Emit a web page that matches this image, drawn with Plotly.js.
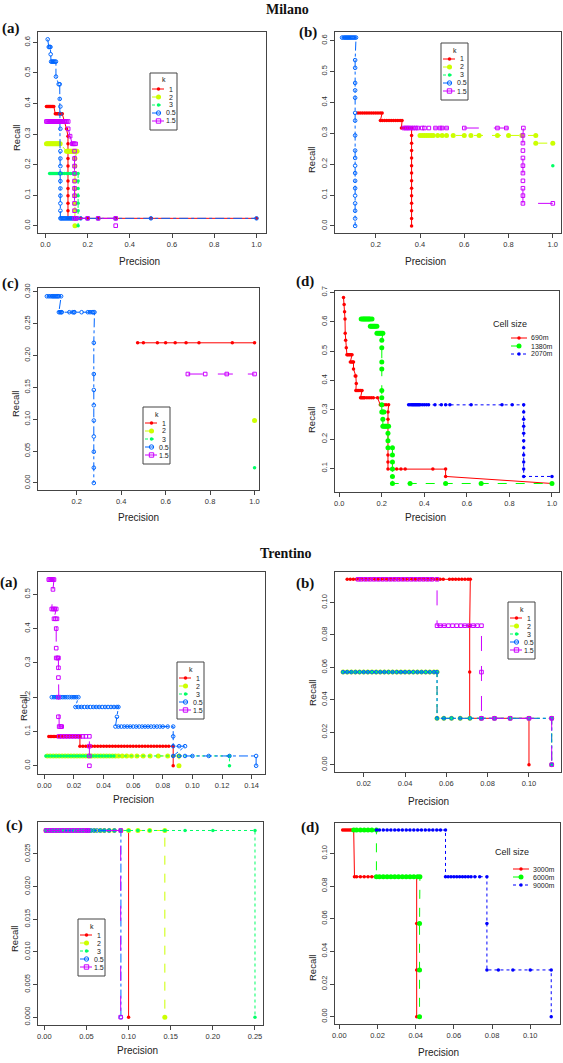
<!DOCTYPE html>
<html><head><meta charset="utf-8">
<script src="https://cdn.plot.ly/plotly-3.0.1.min.js"></script>
<style>html,body{margin:0;padding:0;background:#fff}</style>
</head><body><div id="chart" style="width:563px;height:1063px"></div>
<script>
// ================= DATA =================
const kLabels = ['1','2','3','0.5','1.5'];
const cellLabelsMilano = ['690m','1380m','2070m'];
const cellLabelsTrentino = ['3000m','6000m','9000m'];
const panelLetters = ['(a)','(b)','(c)','(d)','(a)','(b)','(c)','(d)'];
const regionTitles = ['Milano','Trentino'];

// ---- Milano (a) ----
const milA_k1_recall = [0.390,0.366,0.317,0.293,0.268,0.244,0.220,0.195,0.171,0.146,0.122,0.098,0.073,0.049,0.024];
const milA_k1_prec = [[0.005,0.009,0.013,0.017,0.021,0.025,0.030,0.034,0.040],[0.047,0.052,0.057,0.062,0.067,0.072,0.077,0.080],[0.100],[0.107],[0.107],[0.107],[0.107],[0.107],[0.107],[0.107],[0.107],[0.107],[0.107],[0.107],[0.107,0.120,0.140,0.167,0.200,0.250,0.333,0.500,1.000]];
const milA_k2_recall = [0.268,0.244,0.220,0.195,0.171,0.146,0.122,0.098,0.073,0.049,0.024,0.000];
const milA_k2_prec = [[0.005,0.010,0.015,0.020,0.025,0.030,0.035,0.040,0.045,0.050,0.055,0.060,0.065,0.070],[0.100,0.105,0.110,0.115,0.120,0.125,0.130,0.135,0.140,0.145,0.150],[0.140],[0.140],[0.140],[0.140],[0.140],[0.140],[0.140],[0.140],[0.140],[0.140]];
const milA_k3_recall = [0.171,0.146,0.122,0.098,0.073,0.049,0.024,0.000];
const milA_k3_prec = [[0.020,0.025,0.030,0.035,0.040,0.045,0.050,0.055,0.060,0.065,0.070,0.080,0.090,0.100,0.110,0.120,0.130,0.140,0.155],[0.155],[0.155],[0.155],[0.155],[0.155],[0.155],[0.155]];
const milA_k05_recall = [0.610,0.585,0.561,0.537,0.488,0.463,0.415,0.390,0.366,0.341,0.317,0.244,0.220,0.195,0.171,0.146,0.122,0.098,0.073,0.049,0.024];
const milA_k05_prec = [[0.011],[0.016,0.020,0.024],[0.025],[0.027,0.032,0.036,0.040,0.045,0.050],[0.050],[0.063,0.068],[0.068],[0.071],[0.071],[0.071],[0.071],[0.071],[0.071],[0.071],[0.071],[0.071],[0.071],[0.071],[0.071],[0.071],[0.071,0.075,0.080,0.085,0.090,0.095,0.100,0.105,0.110,0.115,0.120,0.125,0.130,0.140,0.150,0.167,0.200,0.250,0.333,0.500,1.000]];
const milA_k15_recall = [0.341,0.317,0.293,0.268,0.244,0.220,0.195,0.171,0.146,0.122,0.098,0.073,0.049,0.024,0.000];
const milA_k15_prec = [[0.005,0.010,0.015,0.020,0.025,0.030,0.035,0.040,0.045,0.050,0.055,0.060,0.065,0.070,0.075,0.080,0.085,0.090,0.095,0.100,0.108],[0.108],[0.117],[0.127,0.132,0.137,0.143],[0.138],[0.138],[0.138],[0.138],[0.138],[0.138],[0.138],[0.138],[0.138],[0.138,0.147,0.200,0.250,0.333],[0.333]];

// ---- Milano (b) ----
const milB_k1_recall = [0.366,0.341,0.317,0.293,0.268,0.244,0.220,0.195,0.171,0.146,0.122,0.098,0.073,0.049,0.024,0.000];
const milB_k1_prec = [[0.120,0.130,0.140,0.150,0.160,0.170,0.180,0.190,0.200,0.210,0.220,0.229],[0.221,0.230,0.240,0.250,0.260,0.270,0.280,0.290,0.300,0.310,0.319],[0.316,0.330,0.340,0.350,0.362],[0.362],[0.362],[0.362],[0.362],[0.362],[0.362],[0.362],[0.362],[0.362],[0.362],[0.362],[0.362],[0.362]];
const milB_k2_recall = [0.293,0.268];
const milB_k2_prec = [[0.400,0.410,0.420,0.430,0.440,0.450,0.460,0.480,0.500,0.520,0.550,0.600,0.630,0.667,0.750,0.800,0.860,0.923],[0.923,1.000]];
const milB_k3_recall = [0.195];
const milB_k3_prec = [[1.000]];
const milB_k05_recall = [0.610,0.537,0.512,0.463,0.439,0.415,0.366,0.341,0.293,0.244,0.220,0.195,0.171,0.146,0.122,0.098,0.073,0.049,0.024,0.000];
const milB_k05_prec = [[0.048,0.055,0.060,0.065,0.070,0.075,0.080,0.085,0.090,0.095,0.100,0.105,0.111],[0.107],[0.107],[0.107],[0.107],[0.107],[0.107],[0.107],[0.107],[0.107],[0.107],[0.107],[0.107],[0.107],[0.107],[0.107],[0.107],[0.107],[0.107],[0.107]];
const milB_k15_recall = [0.317,0.293,0.268,0.244,0.220,0.195,0.171,0.146,0.122,0.098,0.073];
const milB_k15_prec = [[0.327,0.335,0.343,0.350,0.360,0.370,0.380,0.390,0.410,0.420,0.440,0.470,0.490,0.500,0.520,0.600,0.750,0.790,0.867],[0.865],[0.865],[0.865],[0.865],[0.865],[0.865],[0.865],[0.865],[0.865],[0.865,1.000]];

// ---- Milano (c) ----
const milC_k1_recall = [0.220];
const milC_k1_prec = [[0.474,0.500,0.563,0.600,0.643,0.692,0.750,0.900,1.000]];
const milC_k2_recall = [0.098];
const milC_k2_prec = [[1.000]];
const milC_k3_recall = [0.024];
const milC_k3_prec = [[1.000]];
const milC_k05_recall = [0.293,0.268,0.220,0.171,0.146,0.122,0.098,0.073,0.049,0.024,0.000];
const milC_k05_prec = [[0.066,0.075,0.083,0.090,0.095,0.100,0.105,0.110,0.115,0.120,0.130],[0.120,0.125,0.130,0.133,0.167,0.182,0.188,0.190,0.222,0.250,0.260,0.270,0.275,0.280],[0.277],[0.277],[0.277],[0.277],[0.277],[0.277],[0.277],[0.277],[0.277]];
const milC_k15_recall = [0.171];
const milC_k15_prec = [[0.700,0.778,0.875,1.000]];

// ---- Milano (d) : cell size ----
const milD_c690_recall = [0.683,0.659,0.634,0.610,0.561,0.537,0.512,0.488,0.463,0.439,0.415,0.390,0.366,0.341,0.317,0.293,0.268,0.244,0.220,0.195,0.171,0.146,0.122,0.098,0.073,0.049];
const milD_c690_prec = [[0.020],[0.023],[0.025],[0.027],[0.028],[0.030],[0.033],[0.036,0.040,0.045,0.050,0.055,0.060],[0.052,0.058,0.063,0.067],[0.067],[0.075,0.078],[0.080],[0.078,0.083,0.088,0.093,0.100,0.107],[0.100,0.105,0.110,0.115,0.120,0.130,0.140,0.150,0.160,0.180],[0.193,0.200,0.210,0.220,0.232],[0.229],[0.229],[0.229],[0.229],[0.229],[0.229],[0.229],[0.229],[0.229,0.250,0.270,0.290,0.310,0.440,0.500],[0.500],[1.000]];
const milD_c1380_recall = [0.610,0.585,0.561,0.537,0.512,0.463,0.439,0.366,0.341,0.317,0.293,0.268,0.244,0.220,0.195,0.171,0.146,0.122,0.098,0.073,0.049];
const milD_c1380_prec = [[0.103,0.110,0.115,0.120,0.125,0.130,0.135,0.140,0.145,0.154],[0.146,0.150,0.155,0.160,0.165,0.170,0.177],[0.177,0.183,0.190,0.195,0.200,0.205],[0.200],[0.200],[0.200],[0.200],[0.200],[0.200],[0.200],[0.200,0.205,0.210],[0.205],[0.205,0.210,0.215,0.220,0.225,0.232],[0.229],[0.229],[0.229,0.250],[0.250],[0.250],[0.250],[0.250],[0.250,0.333,0.500,0.667,1.000]];
const milD_c2070_recall = [0.317,0.293,0.268,0.244,0.220,0.195,0.171,0.146,0.122,0.098,0.073];
const milD_c2070_prec = [[0.326,0.333,0.340,0.345,0.350,0.355,0.360,0.365,0.370,0.375,0.380,0.390,0.400,0.410,0.420,0.450,0.480,0.500,0.520,0.620,0.765,0.813,0.867],[0.867],[0.867],[0.867],[0.867],[0.867],[0.867],[0.867],[0.867],[0.867],[0.867,1.000]];

// ---- Trentino (a) ----
const treA_k1_recall = [0.0857,0.0571,0.0286,0.0000];
const treA_k1_prec = [[0.003,0.004,0.005,0.006,0.007,0.008,0.009,0.010,0.012,0.014,0.016,0.018,0.020,0.022,0.024],[0.024,0.026,0.028,0.030,0.032,0.034,0.036,0.038,0.040,0.042,0.044,0.046,0.048,0.050,0.052,0.054,0.056,0.058,0.060,0.062,0.064,0.066,0.068,0.070,0.072,0.074,0.076,0.078,0.080,0.082,0.084,0.087],[0.087],[0.087]];
const treA_k2_recall = [0.0286,0.0000];
const treA_k2_prec = [[0.002,0.004,0.006,0.008,0.010,0.012,0.014,0.016,0.018,0.020,0.022,0.024,0.026,0.028,0.030,0.032,0.034,0.036,0.038,0.040,0.042,0.044,0.046,0.048,0.050,0.0526,0.0556,0.0588,0.0625,0.0667,0.0714,0.0769,0.0833,0.0909],[0.0909]];
const treA_k3_recall = [0.0286,0.0000];
const treA_k3_prec = [[0.001,0.003,0.005,0.007,0.009,0.011,0.013,0.015,0.017,0.019,0.021,0.023,0.025,0.027,0.029,0.031,0.033,0.035,0.037,0.039,0.041,0.043,0.045,0.047,0.125],[0.125]];
const treA_k05_recall = [0.2000,0.1714,0.1429,0.1143,0.0857,0.0571,0.0286,0.0000];
const treA_k05_prec = [[0.005,0.0065,0.008,0.0095,0.011,0.0125,0.014,0.0155,0.017,0.0185,0.020,0.0215,0.023],[0.021,0.023,0.025,0.027,0.029,0.031,0.033,0.035,0.037,0.039,0.041,0.043,0.045,0.047,0.049,0.050],[0.049],[0.048,0.050,0.052,0.054,0.056,0.058,0.060,0.062,0.064,0.066,0.068,0.070,0.072,0.074,0.076,0.078,0.080,0.0833,0.087],[0.087],[0.087,0.091,0.095],[0.087,0.091,0.095,0.100,0.111,0.125,0.143],[0.143]];
const treA_k15_recall = [0.5429,0.5143,0.4571,0.4286,0.4000,0.3429,0.3143,0.2857,0.2571,0.2000,0.1429,0.1143,0.0857,0.0571,0.0286,0.0000];
const treA_k15_prec = [[0.003,0.0037,0.0044,0.0051,0.0058,0.0065],[0.0058],[0.005,0.006,0.007,0.008],[0.0065,0.0075,0.0085],[0.008],[0.008],[0.008,0.009,0.0095],[0.0095],[0.0095],[0.0095],[0.0095],[0.010,0.011,0.0117],[0.010,0.012,0.014,0.016,0.018,0.020,0.022,0.024,0.026,0.028,0.0304],[0.0304],[0.0304],[0.0304]];

// ---- Trentino (b) ----
const treB_k1_recall = [0.1143,0.0857,0.0571,0.0286,0.0000];
const treB_k1_prec = [[0.012,0.0135,0.015,0.0165,0.018,0.0195,0.021,0.0225,0.024,0.0255,0.027,0.0285,0.030,0.0315,0.033,0.0345,0.036,0.0375,0.039,0.0405,0.042,0.0435,0.045,0.0465,0.048,0.0495,0.051,0.0525,0.054,0.0555,0.057,0.0585,0.0615,0.063,0.0645,0.066,0.0675,0.069,0.0705,0.0716],[0.0713],[0.0713],[0.0713,0.0769,0.0833,0.0909,0.100],[0.100]];
const treB_k2_recall = [0.0571,0.0286,0.0000];
const treB_k2_prec = [[0.010,0.012,0.014,0.016,0.018,0.020,0.022,0.024,0.026,0.028,0.030,0.032,0.034,0.036,0.038,0.040,0.042,0.044,0.046,0.048,0.050,0.052,0.054,0.0555],[0.0555,0.0588,0.0625,0.0667,0.0714,0.0769,0.0833,0.0909,0.100,0.111],[0.111]];
const treB_k3_recall = [0.0571,0.0286,0.0000];
const treB_k3_prec = [[0.010,0.012,0.014,0.016,0.018,0.020,0.022,0.024,0.026,0.028,0.030,0.032,0.034,0.036,0.038,0.040,0.042,0.044,0.046,0.048,0.050,0.052,0.054,0.0555],[0.0555,0.0588,0.0625,0.0667,0.0714,0.0769,0.0833,0.0909,0.100,0.111],[0.111]];
const treB_k05_recall = [0.0571,0.0286,0.0000];
const treB_k05_prec = [[0.010,0.012,0.014,0.016,0.018,0.020,0.022,0.024,0.026,0.028,0.030,0.032,0.034,0.036,0.038,0.040,0.042,0.044,0.046,0.048,0.050,0.052,0.054,0.0555],[0.0555,0.0588,0.0625,0.0667,0.0714,0.0769,0.0833,0.0909,0.100,0.111],[0.111]];
const treB_k15_recall = [0.1143,0.0857,0.0571,0.0286,0.0000];
const treB_k15_prec = [[0.0173,0.019,0.021,0.023,0.025,0.027,0.029,0.031,0.033,0.035,0.037,0.039,0.041,0.043,0.045,0.047,0.049,0.051,0.053,0.0555],[0.0555,0.057,0.059,0.061,0.063,0.065,0.067,0.069,0.071,0.073,0.075,0.077],[0.077],[0.077,0.0833,0.0909,0.100,0.111],[0.111]];

// ---- Trentino (c) ----
const treC_k1_recall = [0.0286,0.0000];
const treC_k1_prec = [[0.002,0.006,0.010,0.014,0.018,0.022,0.026,0.030,0.034,0.038,0.042,0.046,0.050,0.055,0.060,0.066,0.071,0.077,0.083,0.091,0.100],[0.100]];
const treC_k2_recall = [0.0286,0.0000];
const treC_k2_prec = [[0.002,0.006,0.010,0.014,0.018,0.022,0.026,0.030,0.034,0.038,0.042,0.046,0.050,0.055,0.060,0.066,0.071,0.077,0.083,0.091,0.100,0.111,0.125,0.143],[0.143]];
const treC_k3_recall = [0.0286,0.0000];
const treC_k3_prec = [[0.002,0.006,0.010,0.014,0.018,0.022,0.026,0.030,0.034,0.038,0.042,0.046,0.050,0.055,0.060,0.066,0.071,0.077,0.083,0.091,0.100,0.111,0.125,0.143,0.167,0.200,0.250],[0.250]];
const treC_k05_recall = [0.0286,0.0000];
const treC_k05_prec = [[0.002,0.006,0.010,0.014,0.018,0.022,0.026,0.030,0.034,0.038,0.042,0.046,0.050,0.0526,0.0556,0.0588,0.0625,0.0667,0.0714,0.0769,0.0833,0.0909],[0.0909]];
const treC_k15_recall = [0.0286,0.0000];
const treC_k15_prec = [[0.002,0.006,0.010,0.014,0.018,0.022,0.026,0.030,0.034,0.038,0.042,0.046,0.050,0.052,0.0906],[0.0906]];

// ---- Trentino (d) : cell size ----
const treD_c3000_recall = [0.1143,0.0857,0.0571,0.0286,0.0000];
const treD_c3000_prec = [[0.0017,0.0025,0.0033,0.0041,0.0049,0.0057,0.0065,0.0075],[0.0079,0.009,0.011,0.013,0.015,0.017,0.019,0.021,0.023,0.025,0.027,0.029,0.031,0.033,0.035,0.037,0.039,0.0405],[0.0405],[0.0405],[0.0405]];
const treD_c6000_recall = [0.1143,0.0857,0.0571,0.0286,0.0000];
const treD_c6000_prec = [[0.0075,0.009,0.011,0.013,0.015,0.017,0.0194],[0.0194,0.021,0.023,0.025,0.027,0.029,0.031,0.033,0.035,0.037,0.039,0.041,0.0422],[0.042],[0.042],[0.042]];
const treD_c9000_recall = [0.1143,0.0857,0.0571,0.0286,0.0000];
const treD_c9000_prec = [[0.0194,0.021,0.023,0.025,0.027,0.029,0.031,0.033,0.035,0.037,0.039,0.041,0.043,0.045,0.047,0.049,0.051,0.053,0.0556],[0.0556,0.057,0.0585,0.060,0.0615,0.063,0.0645,0.066,0.0675,0.069,0.071,0.0735,0.0773],[0.0773],[0.0773,0.0833,0.0909,0.100,0.111],[0.111]];

// ================= LAYOUT / STYLE =================
const W = 563, H = 1063;
const COL_K = ['#FF0000','#CCFF00','#00FF66','#0066FF','#CC00FF'];
const COL_C = ['#FF0000','#00FF00','#0000FF'];
const STY_K = [
  {dash:'solid', sym:'circle', size:3.5},
  {dash:'dash', sym:'circle', size:5},
  {dash:'dot', sym:'circle', size:3.5},
  {dash:'dashdot', sym:'circle-open', size:3.6},
  {dash:'longdash', sym:'square-open', size:3.6}
];
const STY_C = [
  {dash:'solid', sym:'circle', size:3.5},
  {dash:'dash', sym:'circle', size:5},
  {dash:'dot', sym:'circle', size:3.5}
];

const panelSeries = [
  [[milA_k1_recall,milA_k1_prec],[milA_k2_recall,milA_k2_prec],[milA_k3_recall,milA_k3_prec],[milA_k05_recall,milA_k05_prec],[milA_k15_recall,milA_k15_prec]],
  [[milB_k1_recall,milB_k1_prec],[milB_k2_recall,milB_k2_prec],[milB_k3_recall,milB_k3_prec],[milB_k05_recall,milB_k05_prec],[milB_k15_recall,milB_k15_prec]],
  [[milC_k1_recall,milC_k1_prec],[milC_k2_recall,milC_k2_prec],[milC_k3_recall,milC_k3_prec],[milC_k05_recall,milC_k05_prec],[milC_k15_recall,milC_k15_prec]],
  [[milD_c690_recall,milD_c690_prec],[milD_c1380_recall,milD_c1380_prec],[milD_c2070_recall,milD_c2070_prec]],
  [[treA_k1_recall,treA_k1_prec],[treA_k2_recall,treA_k2_prec],[treA_k3_recall,treA_k3_prec],[treA_k05_recall,treA_k05_prec],[treA_k15_recall,treA_k15_prec]],
  [[treB_k1_recall,treB_k1_prec],[treB_k2_recall,treB_k2_prec],[treB_k3_recall,treB_k3_prec],[treB_k05_recall,treB_k05_prec],[treB_k15_recall,treB_k15_prec]],
  [[treC_k1_recall,treC_k1_prec],[treC_k2_recall,treC_k2_prec],[treC_k3_recall,treC_k3_prec],[treC_k05_recall,treC_k05_prec],[treC_k15_recall,treC_k15_prec]],
  [[treD_c3000_recall,treD_c3000_prec],[treD_c6000_recall,treD_c6000_prec],[treD_c9000_recall,treD_c9000_prec]]
];

// panel geometry in page pixels (box: x0,y0,x1,y1)
const PANELS = [
  {box:[38,32,266,233],  xr:[-0.035,1.045], yr:[-0.024,0.634], dx:0.2, dy:0.1, fx:'.1f', fy:'.1f', cell:false, lab:[11,29],  rec:[16,138],  pre:[139,261], leg:[150,73]},
  {box:[335,32,561,233], xr:[0.016,1.037],  yr:[-0.023,0.628], dx:0.2, dy:0.1, fx:'.1f', fy:'.1f', cell:false, lab:[308,32], rec:[312,160], pre:[425,261], leg:[441,43]},
  {box:[38,288,259,490], xr:[0.026,1.02],   yr:[-0.011,0.306], dx:0.2, dy:0.05, fx:'.1f', fy:'.2f', cell:false, lab:[10,283], rec:[15,404],  pre:[138,518], leg:[143,407]},
  {box:[335,291,559,492],xr:[-0.02,1.033],  yr:[0.02,0.705],   dx:0.2, dy:0.1, fx:'.1f', fy:'.1f', cell:true,  lab:[305,281],rec:[312,420], pre:[425,517], leg:[510,324,338]},
  {box:[38,572,265,774], xr:[-0.0043,0.149],yr:[-0.024,0.565], dx:0.02, dy:0.1, fx:'.2f', fy:'.1f', cell:false, lab:[9,582],  rec:[23,708],  pre:[133,799], leg:[177,662]},
  {box:[335,572,561,772],xr:[0.0061,0.1155],yr:[-0.0045,0.1188],dx:0.02, dy:0.02, fx:'.2f', fy:'.2f', cell:false, lab:[305,583],rec:[312,693], pre:[428,801], leg:[508,602]},
  {box:[38,822,263,1025],xr:[-0.0075,0.2595],yr:[-0.0012,0.0299],dx:0.05, dy:0.005, fx:'.2f', fy:'.3f', cell:false, lab:[15,825], rec:[14,939],  pre:[137,1050],leg:[78,919]},
  {box:[335,823,560,1024],xr:[-0.0023,0.1156],yr:[-0.0045,0.1186],dx:0.02, dy:0.02, fx:'.2f', fy:'.2f', cell:true, lab:[310,827],rec:[312,968], pre:[438,1052],leg:[512,852,869]}
];
const regionTitlePos = [[287,9],[286,553]];

const FONT = 'Liberation Sans, Arial, Helvetica, sans-serif';
const SERIF = 'Liberation Serif, Times New Roman, serif';
const AX = '#444';

function flat(recall, prec) {
  const x = [], y = [];
  recall.forEach((r, i) => prec[i].forEach(p => { x.push(p); y.push(r); }));
  return {x, y};
}
const fxp = p => p / W;
const fyp = p => 1 - p / H;

const traces = [];
const layout = {
  width: W, height: H, margin: {l:0, r:0, t:0, b:0},
  paper_bgcolor: '#fff', plot_bgcolor: '#fff', showlegend: false,
  font: {family: FONT, color: '#222'},
  shapes: [], annotations: []
};
function txt(s, x, y, size, opts) {
  layout.annotations.push(Object.assign({
    text: s, x: fxp(x), y: fyp(y), xref: 'paper', yref: 'paper', showarrow: false,
    xanchor: 'center', yanchor: 'middle', font: {family: FONT, size: size, color: '#222'}
  }, opts || {}));
}
function sampleMarker(cx, cy, sty, col) {
  const open = sty.sym.indexOf('open') >= 0;
  const r = sty.size / 2 + (open ? 0.4 : 0);
  layout.shapes.push({
    type: sty.sym.indexOf('square') === 0 ? 'rect' : 'circle', xref: 'paper', yref: 'paper',
    x0: fxp(cx - r), x1: fxp(cx + r), y0: fyp(cy + r), y1: fyp(cy - r),
    line: {color: col, width: open ? 1 : 0}, fillcolor: open ? 'rgba(0,0,0,0)' : col
  });
}
function sampleLine(x0, x1, y, sty, col) {
  layout.shapes.push({type: 'line', xref: 'paper', yref: 'paper', x0: fxp(x0), x1: fxp(x1), y0: fyp(y), y1: fyp(y),
    line: {color: col, width: 1, dash: sty.dash}});
}

PANELS.forEach((P, i) => {
  const n = i + 1, s = n === 1 ? '' : String(n);
  const common = {showline: true, mirror: true, linecolor: AX, linewidth: 1, ticks: 'outside', ticklen: 4,
    tickcolor: AX, tickwidth: 1, showgrid: false, zeroline: false, tickmode: 'linear', tick0: 0,
    tickfont: {family: FONT, size: 7.5, color: '#333'}};
  layout['xaxis' + s] = Object.assign({}, common, {domain: [fxp(P.box[0]), fxp(P.box[2])], anchor: 'y' + s,
    range: P.xr, dtick: P.dx, tickformat: P.fx});
  layout['yaxis' + s] = Object.assign({}, common, {domain: [fyp(P.box[3]), fyp(P.box[1])], anchor: 'x' + s,
    range: P.yr, dtick: P.dy, tickformat: P.fy, tickangle: -90});

  const cols = P.cell ? COL_C : COL_K, stys = P.cell ? STY_C : STY_K;
  panelSeries[i].forEach((ser, j) => {
    const d = flat(ser[0], ser[1]);
    const sty = stys[j], open = sty.sym.indexOf('open') >= 0;
    traces.push({type: 'scatter', mode: 'lines+markers', x: d.x, y: d.y, xaxis: 'x' + s, yaxis: 'y' + s,
      line: {color: cols[j], width: 1, dash: sty.dash},
      marker: {symbol: sty.sym, size: sty.size, color: cols[j], line: {color: cols[j], width: open ? 1 : 0}},
      hoverinfo: 'skip', cliponaxis: true});
  });

  // texts
  txt(panelLetters[i], P.lab[0], P.lab[1], 15, {font: {family: SERIF, size: 15, color: '#111', weight: 'bold'}});
  txt('Recall', P.rec[0], P.rec[1], 9.5, {textangle: -90});
  txt('Precision', P.pre[0], P.pre[1], 10);

  // legends
  if (!P.cell) {
    const bx = P.leg[0], by = P.leg[1];
    layout.shapes.push({type: 'rect', xref: 'paper', yref: 'paper', x0: fxp(bx), x1: fxp(bx + 27), y0: fyp(by + 57), y1: fyp(by),
      line: {color: AX, width: 1}, fillcolor: 'rgba(0,0,0,0)'});
    txt('k', bx + 13.5, by + 7, 7);
    kLabels.forEach((lab, j) => {
      const ry = by + 16 + j * 8;
      sampleLine(bx + 2, bx + 14, ry, STY_K[j], COL_K[j]);
      sampleMarker(bx + 8.5, ry, STY_K[j], COL_K[j]);
      txt(lab, bx + 20.5, ry, 7);
    });
  } else {
    const tx = P.leg[0], ty = P.leg[1], r0 = P.leg[2];
    const labs = i === 3 ? cellLabelsMilano : cellLabelsTrentino;
    txt('Cell size', tx, ty, 9);
    labs.forEach((lab, j) => {
      const ry = r0 + j * 8;
      sampleLine(tx + 1, tx + 17, ry, STY_C[j], COL_C[j]);
      sampleMarker(tx + 9, ry, STY_C[j], COL_C[j]);
      txt(lab, tx + 19, ry, 7, {xanchor: 'left'});
    });
  }
});
regionTitles.forEach((t, i) => {
  txt(t, regionTitlePos[i][0], regionTitlePos[i][1], 14, {font: {family: SERIF, size: 14, color: '#111', weight: 'bold'}});
});

Plotly.newPlot('chart', traces, layout, {staticPlot: true, displayModeBar: false});
</script>
</body></html>
